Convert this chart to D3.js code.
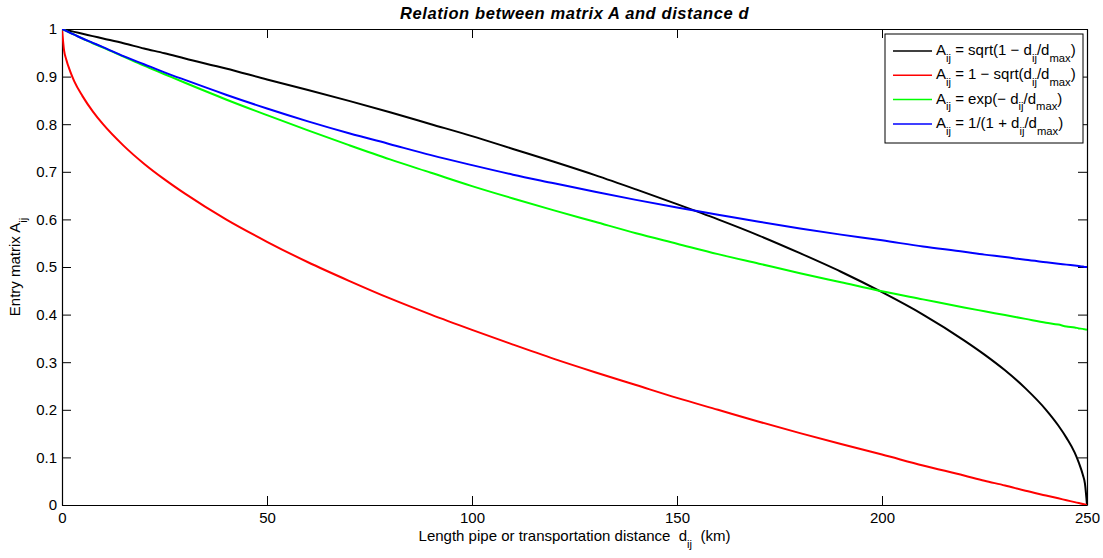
<!DOCTYPE html>
<html>
<head>
<meta charset="utf-8">
<script src="https://cdn.jsdelivr.net/npm/d3@7"></script>
<style>
  body { margin: 0; background: #fff; }
  text { font-family: "Liberation Sans", Arial, Helvetica, sans-serif; white-space: pre; }
</style>
</head>
<body>
<svg id="chart" width="1103" height="558"></svg>
<script>
const distances = [0, 0.5, 1, 2, 3, 5, 7.5, 10, 15, 20, 25, 30, 40, 50, 60, 70, 80, 90, 100,
    110, 120, 130, 140, 150, 160, 170, 180, 190, 200, 210, 220, 225, 230, 235, 240, 243, 245,
    247, 248, 249, 249.5, 250];

// black: sqrt(1 - d/dmax)
const sqrtOneMinus = [1, 0.999, 0.998, 0.996, 0.994, 0.990, 0.985, 0.980, 0.970, 0.959, 0.949, 0.938,
    0.917, 0.894, 0.872, 0.849, 0.825, 0.800, 0.775, 0.748, 0.721, 0.693, 0.663, 0.632, 0.600, 0.566,
    0.529, 0.490, 0.447, 0.400, 0.346, 0.316, 0.283, 0.245, 0.200, 0.167, 0.141, 0.110, 0.089, 0.063,
    0.045, 0];
// red: 1 - sqrt(d/dmax)
const oneMinusSqrt = [1, 0.955, 0.937, 0.911, 0.890, 0.859, 0.827, 0.800, 0.755, 0.717, 0.684, 0.654,
    0.600, 0.553, 0.510, 0.471, 0.434, 0.400, 0.368, 0.337, 0.307, 0.279, 0.252, 0.225, 0.200, 0.175,
    0.151, 0.128, 0.106, 0.083, 0.062, 0.051, 0.041, 0.030, 0.020, 0.014, 0.010, 0.006, 0.004, 0.002,
    0.001, 0];
// green: exp(-d/dmax)
const expDecay = [1, 0.998, 0.996, 0.992, 0.988, 0.980, 0.970, 0.961, 0.942, 0.923, 0.905, 0.887,
    0.852, 0.819, 0.787, 0.756, 0.726, 0.698, 0.670, 0.644, 0.619, 0.595, 0.571, 0.549, 0.527, 0.507,
    0.487, 0.468, 0.449, 0.432, 0.415, 0.407, 0.399, 0.391, 0.383, 0.379, 0.375, 0.373, 0.371, 0.370,
    0.369, 0.368];
// blue: 1/(1 + d/dmax)
const inverse = [1, 0.998, 0.996, 0.992, 0.988, 0.980, 0.971, 0.962, 0.943, 0.926, 0.909, 0.893,
    0.862, 0.833, 0.806, 0.781, 0.758, 0.735, 0.714, 0.694, 0.676, 0.658, 0.641, 0.625, 0.610, 0.595,
    0.581, 0.568, 0.556, 0.543, 0.532, 0.526, 0.521, 0.515, 0.510, 0.507, 0.505, 0.503, 0.502, 0.501,
    0.500, 0.500];

const xTicks = [0, 50, 100, 150, 200, 250];
const yTicks = [0, 0.1, 0.2, 0.3, 0.4, 0.5, 0.6, 0.7, 0.8, 0.9, 1];

const series = [
    {name: ["A", "ij", " = sqrt(1 \u2212 d", "ij", "/d", "max", ")"], values: sqrtOneMinus, color: "#000000"},
    {name: ["A", "ij", " = 1 \u2212 sqrt(d", "ij", "/d", "max", ")"], values: oneMinusSqrt, color: "#ff0000"},
    {name: ["A", "ij", " = exp(\u2212 d", "ij", "/d", "max", ")"], values: expDecay, color: "#00ff00"},
    {name: ["A", "ij", " = 1/(1 + d", "ij", "/d", "max", ")"], values: inverse, color: "#0000ff"}
];

const plotL = 62, plotR = 1087, plotT = 29, plotB = 505;
const fontPx = 15;
const svg = d3.select("#chart");

const xScale = d3.scaleLinear().domain([0, 250]).range([plotL, plotR]);
const yScale = d3.scaleLinear().domain([0, 1]).range([plotB, plotT]);
const tickLen = 9;

svg.append("defs").append("clipPath").attr("id", "plotclip")
    .append("rect").attr("x", plotL).attr("y", plotT)
    .attr("width", plotR - plotL).attr("height", plotB - plotT);

// axes - ticks point inward on all four sides (matlab box on)
svg.append("g").attr("transform", "translate(0," + plotB + ")")
    .call(d3.axisBottom(xScale).tickValues(xTicks).tickSizeInner(-tickLen).tickSizeOuter(0)
        .tickPadding(7).tickFormat(d3.format("d")));
svg.append("g").attr("transform", "translate(0," + plotT + ")")
    .call(d3.axisTop(xScale).tickValues(xTicks).tickSizeInner(-tickLen).tickSizeOuter(0).tickFormat(""));
svg.append("g").attr("transform", "translate(" + plotL + ",0)")
    .call(d3.axisLeft(yScale).tickValues(yTicks).tickSizeInner(-tickLen).tickSizeOuter(0)
        .tickPadding(5).tickFormat((d) => d3.format("~g")(d)));
svg.append("g").attr("transform", "translate(" + plotR + ",0)")
    .call(d3.axisRight(yScale).tickValues(yTicks).tickSizeInner(-tickLen).tickSizeOuter(0).tickFormat(""));

svg.selectAll(".domain").attr("stroke", "#000").attr("stroke-width", 1.2);
svg.selectAll(".tick line").attr("stroke", "#000").attr("stroke-width", 1);
svg.selectAll(".tick text").attr("fill", "#000").style("font-size", fontPx + "px");

// curves
const line = d3.line()
    .x((d, i) => xScale(distances[i]))
    .y((d) => yScale(d))
    .curve(d3.curveMonotoneX);

series.forEach((s) => {
    svg.append("path")
        .attr("clip-path", "url(#plotclip)")
        .attr("d", line(s.values))
        .attr("fill", "none")
        .attr("stroke", s.color)
        .attr("stroke-width", 2);
});

// text with subscripts: parts alternate normal/subscript
const richText = function(sel, parts, size) {
    parts.forEach((p, i) => {
        const sub = i % 2 === 1;
        const ts = sel.append("tspan").text(p)
            .style("font-size", (sub ? size * 0.75 : size) + "px");
        ts.attr("dy", sub ? size * 0.45 : (i > 0 ? -size * 0.45 : 0));
    });
};

// title
svg.append("text")
    .attr("x", (plotL + plotR) / 2).attr("y", 19)
    .attr("text-anchor", "middle")
    .style("font-size", "16.5px").style("font-weight", "bold").style("font-style", "italic")
    .style("letter-spacing", "0.6px")
    .text("Relation between matrix A and distance d");

// axis labels
const xl = svg.append("text").attr("x", (plotL + plotR) / 2).attr("y", 541).attr("text-anchor", "middle");
richText(xl, ["Length pipe or transportation distance  d", "ij", "  (km)"], fontPx);

const yl = svg.append("text")
    .attr("transform", "translate(20," + ((plotT + plotB) / 2) + ") rotate(-90)")
    .attr("text-anchor", "middle");
richText(yl, ["Entry matrix A", "ij"], fontPx);

// legend
const legend = svg.append("g");
legend.append("rect").attr("x", 885).attr("y", 34).attr("width", 198).attr("height", 109)
    .attr("fill", "#fff").attr("stroke", "#000").attr("stroke-width", 1);
series.forEach((s, i) => {
    const rowY = 51 + i * 24.3;
    legend.append("line").attr("x1", 893).attr("x2", 932).attr("y1", rowY).attr("y2", rowY)
        .attr("stroke", s.color).attr("stroke-width", 1.5);
    const t = legend.append("text").attr("x", 936).attr("y", rowY + 4);
    richText(t, s.name, fontPx);
});
</script>
</body>
</html>
